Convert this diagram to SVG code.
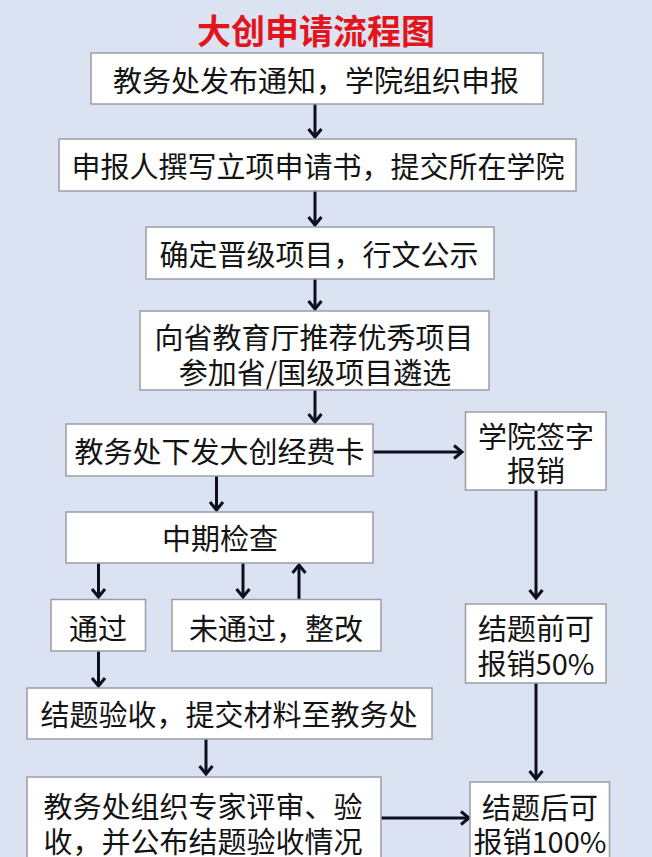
<svg xmlns="http://www.w3.org/2000/svg" width="652" height="857" viewBox="0 0 652 857">
<defs>
<style>
.box{fill:#ffffff;stroke:#9b9ca8;stroke-width:1.5}
.t{font-family:"Noto Sans CJK SC","Noto Sans",sans-serif;font-size:29px;fill:#141414;text-anchor:middle;dominant-baseline:central}
.title{font-family:"Noto Sans CJK SC","Noto Sans",sans-serif;font-size:34px;font-weight:bold;fill:#e3151c;text-anchor:middle;dominant-baseline:central}
.c{stroke:#0d0f1f;stroke-width:3;fill:none;marker-end:url(#ah)}
</style>
<marker id="ah" viewBox="-11 -8 13 16" refX="0" refY="0" markerWidth="13" markerHeight="16" markerUnits="userSpaceOnUse" orient="auto">
<path d="M-8,-6.5 L0,0 L-8,6.5" fill="none" stroke="#0d0f1f" stroke-width="3"/>
</marker>
</defs>
<rect x="0" y="0" width="652" height="857" fill="#dbe2f2"/>
<text class="title" x="316" y="29">大创申请流程图</text>
<g id="connectors">
<line class="c" x1="315" y1="104" x2="315" y2="137"/>
<line class="c" x1="315" y1="191" x2="315" y2="225"/>
<line class="c" x1="315" y1="279" x2="315" y2="309"/>
<line class="c" x1="315" y1="390" x2="315" y2="422"/>
<line class="c" x1="373" y1="452" x2="462" y2="452"/>
<line class="c" x1="216.5" y1="476" x2="216.5" y2="510"/>
<line class="c" x1="98.5" y1="563" x2="98.5" y2="597"/>
<line class="c" x1="243" y1="563" x2="243" y2="597"/>
<line class="c" x1="299" y1="599" x2="299" y2="565"/>
<line class="c" x1="98.5" y1="651" x2="98.5" y2="686"/>
<line class="c" x1="206" y1="739" x2="206" y2="774"/>
<line class="c" x1="381" y1="818" x2="469" y2="818"/>
<line class="c" x1="536" y1="490" x2="536" y2="598"/>
<line class="c" x1="536" y1="683" x2="536" y2="779"/>
</g>
<g id="n1"><rect class="box" x="91" y="53" width="452" height="51"/><text class="t" x="316" y="79">教务处发布通知，学院组织申报</text></g>
<g id="n2"><rect class="box" x="59" y="139" width="517" height="52"/><text class="t" x="318" y="165">申报人撰写立项申请书，提交所在学院</text></g>
<g id="n3"><rect class="box" x="146" y="227" width="348" height="52"/><text class="t" x="319" y="253">确定晋级项目，行文公示</text></g>
<g id="n4"><rect class="box" x="140" y="311" width="349" height="79"/><text class="t" x="314" y="336">向省教育厅推荐优秀项目</text><text class="t" x="315" y="371">参加省/国级项目遴选</text></g>
<g id="n5"><rect class="box" x="66" y="424" width="307" height="52"/><text class="t" x="219.5" y="450">教务处下发大创经费卡</text></g>
<g id="n6"><rect class="box" x="465.5" y="412" width="140.5" height="78"/><text class="t" x="536" y="435">学院签字</text><text class="t" x="536" y="469">报销</text></g>
<g id="n7"><rect class="box" x="66" y="512" width="307" height="51"/><text class="t" x="220" y="537">中期检查</text></g>
<g id="n8"><rect class="box" x="51" y="599.5" width="94.5" height="51.5"/><text class="t" x="98" y="627">通过</text></g>
<g id="n9"><rect class="box" x="172" y="599.5" width="209" height="51.5"/><text class="t" x="276" y="627">未通过，整改</text></g>
<g id="n10"><rect class="box" x="465.5" y="604" width="140.5" height="79"/><text class="t" x="536" y="627">结题前可</text><text class="t" x="536" y="662">报销50%</text></g>
<g id="n11"><rect class="box" x="27" y="688" width="405" height="51"/><text class="t" x="229" y="713">结题验收，提交材料至教务处</text></g>
<g id="n12"><rect class="box" x="27" y="777" width="354" height="90"/><text class="t" x="203" y="805">教务处组织专家评审、验</text><text class="t" x="203" y="840">收，并公布结题验收情况</text></g>
<g id="n13"><rect class="box" x="470" y="782" width="139.5" height="85"/><text class="t" x="540" y="806">结题后可</text><text class="t" x="540" y="840">报销100%</text></g>
</svg>
